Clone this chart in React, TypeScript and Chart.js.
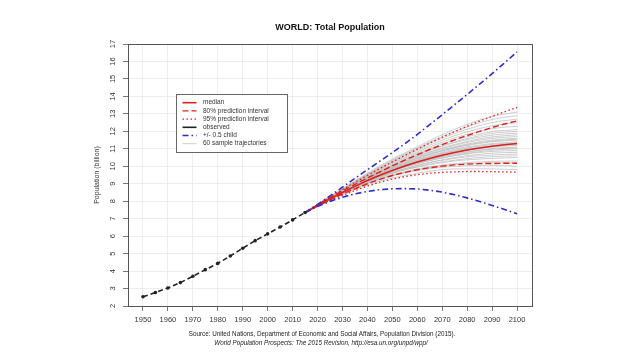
import React, { useEffect, useRef } from "react";
import { Chart, registerables } from "chart.js";

Chart.register(...registerables);

const FONT = '"Liberation Sans", Arial, Helvetica, sans-serif';

const TITLE = "WORLD: Total Population";
const Y_TITLE = "Population (billion)";
const SOURCE_LINE_1 =
  "Source: United Nations, Department of Economic and Social Affairs, Population Division (2015).";
const SOURCE_LINE_2 =
  "World Population Prospects: The 2015 Revision, http://esa.un.org/unpd/wpp/";

const X_TICKS = [1950, 1960, 1970, 1980, 1990, 2000, 2010, 2020, 2030, 2040, 2050, 2060, 2070, 2080, 2090, 2100];
const Y_TICKS = [2, 3, 4, 5, 6, 7, 8, 9, 10, 11, 12, 13, 14, 15, 16, 17];

// Observed population (billions)
const OBS_YEARS = [1950, 1955, 1960, 1965, 1970, 1975, 1980, 1985, 1990, 1995, 2000, 2005, 2010, 2015];
const OBS_POP = [2.53, 2.77, 3.03, 3.34, 3.7, 4.08, 4.44, 4.86, 5.31, 5.74, 6.13, 6.52, 6.93, 7.35];

// Projections
const PROJ_YEARS = [2015, 2020, 2025, 2030, 2035, 2040, 2045, 2050, 2055, 2060, 2065, 2070, 2075, 2080, 2085, 2090, 2095, 2100];
const MEDIAN = [7.35, 7.76, 8.14, 8.5, 8.85, 9.18, 9.49, 9.76, 10.02, 10.25, 10.45, 10.63, 10.79, 10.93, 11.05, 11.15, 11.23, 11.3];
const PI80_UPPER = [7.35, 7.79, 8.2, 8.59, 8.97, 9.33, 9.68, 10.02, 10.35, 10.66, 10.96, 11.24, 11.51, 11.76, 12.0, 12.22, 12.42, 12.6];
const PI80_LOWER = [7.35, 7.73, 8.08, 8.41, 8.71, 9.0, 9.25, 9.47, 9.65, 9.8, 9.92, 10.01, 10.08, 10.12, 10.15, 10.16, 10.17, 10.17];
const PI95_UPPER = [7.35, 7.81, 8.25, 8.67, 9.08, 9.48, 9.87, 10.25, 10.62, 10.98, 11.33, 11.66, 11.98, 12.29, 12.58, 12.86, 13.12, 13.37];
const PI95_LOWER = [7.35, 7.72, 8.04, 8.33, 8.61, 8.87, 9.09, 9.27, 9.41, 9.52, 9.6, 9.65, 9.68, 9.7, 9.7, 9.69, 9.68, 9.66];
const HIGH_VARIANT = [7.35, 7.82, 8.3, 8.8, 9.31, 9.8, 10.29, 10.78, 11.29, 11.82, 12.38, 12.95, 13.53, 14.11, 14.7, 15.3, 15.92, 16.55];
const LOW_VARIANT = [7.35, 7.7, 7.99, 8.23, 8.42, 8.56, 8.66, 8.71, 8.72, 8.7, 8.63, 8.52, 8.37, 8.19, 7.98, 7.76, 7.53, 7.28];

// Sample trajectories (values at TRAJ_YEARS)
const TRAJ_YEARS = [2015, 2030, 2045, 2060, 2075, 2090, 2100];
const TRAJECTORIES = [
  [7.35, 8.4, 9.15, 9.6, 9.85, 9.85, 9.8],
  [7.35, 8.45, 9.25, 9.75, 10.0, 10.05, 10.0],
  [7.35, 8.5, 9.3, 9.8, 10.1, 10.2, 10.2],
  [7.35, 8.42, 9.28, 9.85, 10.15, 10.28, 10.3],
  [7.35, 8.55, 9.4, 9.95, 10.3, 10.45, 10.5],
  [7.35, 8.48, 9.35, 9.98, 10.35, 10.55, 10.6],
  [7.35, 8.52, 9.42, 10.05, 10.45, 10.65, 10.7],
  [7.35, 8.46, 9.38, 10.05, 10.5, 10.75, 10.8],
  [7.35, 8.58, 9.5, 10.15, 10.6, 10.85, 10.9],
  [7.35, 8.5, 9.45, 10.15, 10.62, 10.92, 11.0],
  [7.35, 8.53, 9.48, 10.2, 10.68, 10.98, 11.05],
  [7.35, 8.56, 9.52, 10.22, 10.72, 11.02, 11.1],
  [7.35, 8.49, 9.5, 10.25, 10.8, 11.1, 11.2],
  [7.35, 8.6, 9.58, 10.3, 10.85, 11.15, 11.25],
  [7.35, 8.51, 9.53, 10.3, 10.88, 11.2, 11.3],
  [7.35, 8.57, 9.6, 10.35, 10.92, 11.25, 11.35],
  [7.35, 8.55, 9.58, 10.38, 10.98, 11.3, 11.4],
  [7.35, 8.62, 9.65, 10.45, 11.05, 11.4, 11.5],
  [7.35, 8.54, 9.62, 10.45, 11.08, 11.45, 11.55],
  [7.35, 8.59, 9.66, 10.5, 11.12, 11.5, 11.6],
  [7.35, 8.63, 9.7, 10.55, 11.2, 11.6, 11.7],
  [7.35, 8.58, 9.7, 10.58, 11.25, 11.68, 11.8],
  [7.35, 8.65, 9.76, 10.65, 11.35, 11.78, 11.9],
  [7.35, 8.61, 9.75, 10.68, 11.4, 11.88, 12.0],
  [7.35, 8.66, 9.82, 10.75, 11.5, 11.98, 12.1],
  [7.35, 8.64, 9.85, 10.82, 11.62, 12.15, 12.3],
  [7.35, 8.68, 9.9, 10.9, 11.75, 12.32, 12.5],
  [7.35, 8.66, 9.92, 10.98, 11.88, 12.5, 12.7],
  [7.35, 8.7, 9.98, 11.05, 12.0, 12.68, 12.9],
  [7.35, 8.72, 10.02, 11.12, 12.12, 12.85, 13.1],
];

const LEGEND_LABELS = [
  "median",
  "80% prediction interval",
  "95% prediction interval",
  "observed",
  "+/- 0.5 child",
  "60 sample trajectories",
];

const RED = "#dd2020";
const BLUE = "#2f2fc0";
const STYLES = {
  median: { color: RED, width: 1.6, dash: [] as number[] },
  pi80: { color: RED, width: 1.4, dash: [6, 3] },
  pi95: { color: RED, width: 1.3, dash: [1.5, 2.5] },
  observed: { color: "#222222", width: 1.6, dash: [] as number[] },
  variant: { color: BLUE, width: 1.6, dash: [6, 3, 1.5, 3] },
  traj: { color: "#b9b9b9", width: 0.7, dash: [] as number[] },
};
const LEGEND_STYLES = [STYLES.median, STYLES.pi80, STYLES.pi95, STYLES.observed, STYLES.variant, STYLES.traj];

const toXY = (xs: number[], ys: number[]) => xs.map((x, i) => ({ x, y: ys[i] }));

const boxPlugin = {
  id: "plotBox",
  afterDatasetsDraw(chart: any) {
    const { ctx, chartArea } = chart;
    ctx.save();
    ctx.strokeStyle = "#555555";
    ctx.lineWidth = 1;
    ctx.strokeRect(
      Math.round(chartArea.left) + 0.5,
      Math.round(chartArea.top) + 0.5,
      Math.round(chartArea.right - chartArea.left),
      Math.round(chartArea.bottom - chartArea.top)
    );
    ctx.restore();
  },
};

const legendPlugin = {
  id: "boxLegend",
  afterDatasetsDraw(chart: any) {
    const { ctx, chartArea } = chart;
    const x0 = Math.round(chartArea.left + 48);
    const y0 = Math.round(chartArea.top + 50);
    const w = 111;
    const h = 58;
    ctx.save();
    ctx.fillStyle = "#ffffff";
    ctx.fillRect(x0, y0, w, h);
    ctx.strokeStyle = "#666666";
    ctx.lineWidth = 1;
    ctx.strokeRect(x0 + 0.5, y0 + 0.5, w, h);
    LEGEND_LABELS.forEach((label, i) => {
      const st = LEGEND_STYLES[i];
      const y = y0 + 8.7 + i * 8.2;
      ctx.beginPath();
      ctx.setLineDash(st.dash);
      ctx.strokeStyle = st.color;
      ctx.lineWidth = st.width;
      ctx.moveTo(x0 + 6.5, y);
      ctx.lineTo(x0 + 20.5, y);
      ctx.stroke();
      ctx.setLineDash([]);
      ctx.fillStyle = "#333333";
      ctx.font = `6.5px ${FONT}`;
      ctx.textBaseline = "middle";
      ctx.textAlign = "left";
      ctx.fillText(label, x0 + 27, y);
    });
    ctx.restore();
  },
};

export default function App() {
  const ref = useRef<HTMLCanvasElement>(null);

  useEffect(() => {
    if (!ref.current) return;
    const line = (label: string, data: any[], st: any, order: number, extra: any = {}) => ({
      label,
      data,
      borderColor: st.color,
      backgroundColor: st.color,
      borderWidth: st.width,
      borderDash: st.dash,
      pointRadius: 0,
      fill: false,
      order,
      ...extra,
    });

    const datasets: any[] = [];
    TRAJECTORIES.forEach((row, i) => {
      datasets.push(
        line(`trajectory ${i + 1}`, toXY(TRAJ_YEARS, row), STYLES.traj, 10, {
          cubicInterpolationMode: "monotone",
        })
      );
    });
    datasets.push(line("95% upper", toXY(PROJ_YEARS, PI95_UPPER), STYLES.pi95, 4));
    datasets.push(line("95% lower", toXY(PROJ_YEARS, PI95_LOWER), STYLES.pi95, 4));
    datasets.push(line("80% upper", toXY(PROJ_YEARS, PI80_UPPER), STYLES.pi80, 3));
    datasets.push(line("80% lower", toXY(PROJ_YEARS, PI80_LOWER), STYLES.pi80, 3));
    datasets.push(line("median", toXY(PROJ_YEARS, MEDIAN), STYLES.median, 2));
    datasets.push(line("high", toXY(PROJ_YEARS, HIGH_VARIANT), STYLES.variant, 1));
    datasets.push(line("low", toXY(PROJ_YEARS, LOW_VARIANT), STYLES.variant, 1));
    datasets.push(
      line("observed", toXY(OBS_YEARS, OBS_POP), { ...STYLES.observed, dash: [5, 3] }, 0, {
        pointRadius: 1.8,
        pointBackgroundColor: "#222222",
        pointBorderColor: "#222222",
        pointBorderWidth: 0,
      })
    );

    const chart = new Chart(ref.current, {
      type: "line",
      data: { datasets },
      plugins: [boxPlugin, legendPlugin],
      options: {
        animation: false,
        responsive: true,
        maintainAspectRatio: false,
        layout: { padding: { left: 0, right: 106, top: 0, bottom: 0 } },
        plugins: {
          legend: { display: false },
          tooltip: { enabled: false },
          title: {
            display: true,
            text: TITLE,
            fullSize: false,
            color: "#111111",
            font: { family: FONT, size: 9, weight: "bold" },
            padding: { top: 22.3, bottom: 10.9 },
          },
        },
        scales: {
          x: {
            type: "linear",
            min: 1944,
            max: 2106,
            afterBuildTicks: (scale: any) => {
              scale.ticks = X_TICKS.map((v) => ({ value: v }));
            },
            afterFit: (scale: any) => {
              scale.height = 53;
            },
            grid: {
              color: "#e8e8e8",
              lineWidth: 0.8,
              tickColor: "#555555",
              tickLength: 5,
              drawTicks: true,
            },
            border: { display: true, color: "#555555", width: 1 },
            ticks: {
              autoSkip: false,
              maxRotation: 0,
              minRotation: 0,
              padding: 4.5,
              color: "#333333",
              font: { family: FONT, size: 7.5 },
              callback: (v: any) => String(v),
            },
          },
          y: {
            type: "linear",
            min: 2,
            max: 17,
            afterBuildTicks: (scale: any) => {
              scale.ticks = Y_TICKS.map((v) => ({ value: v }));
            },
            afterFit: (scale: any) => {
              scale.width = 128;
            },
            grid: {
              color: "#e8e8e8",
              lineWidth: 0.8,
              tickColor: "#555555",
              tickLength: 5,
              drawTicks: true,
            },
            border: { display: true, color: "#555555", width: 1 },
            title: {
              display: true,
              text: Y_TITLE,
              color: "#333333",
              font: { family: FONT, size: 7 },
              padding: { top: 92.8, bottom: 0 },
            },
            ticks: {
              autoSkip: false,
              minRotation: 90,
              maxRotation: 90,
              crossAlign: "center",
              padding: 5.5,
              color: "#333333",
              font: { family: FONT, size: 7.5 },
              callback: (v: any) => String(v),
            },
          },
        },
      },
    } as any);

    return () => chart.destroy();
  }, []);

  return (
    <div
      style={{
        position: "fixed",
        left: 0,
        top: 0,
        width: 638,
        height: 359,
        background: "#ffffff",
        fontFamily: FONT,
      }}
    >
      <canvas ref={ref} />
      <div
        style={{
          position: "absolute",
          left: 0,
          width: 644,
          top: 330,
          textAlign: "center",
          fontSize: 6.3,
          lineHeight: "8px",
          color: "#222222",
          whiteSpace: "nowrap",
        }}
      >
        {SOURCE_LINE_1}
      </div>
      <div
        style={{
          position: "absolute",
          left: 0,
          width: 642,
          top: 339,
          textAlign: "center",
          fontSize: 6.3,
          lineHeight: "8px",
          fontStyle: "italic",
          color: "#222222",
          whiteSpace: "nowrap",
        }}
      >
        {SOURCE_LINE_2}
      </div>
    </div>
  );
}
